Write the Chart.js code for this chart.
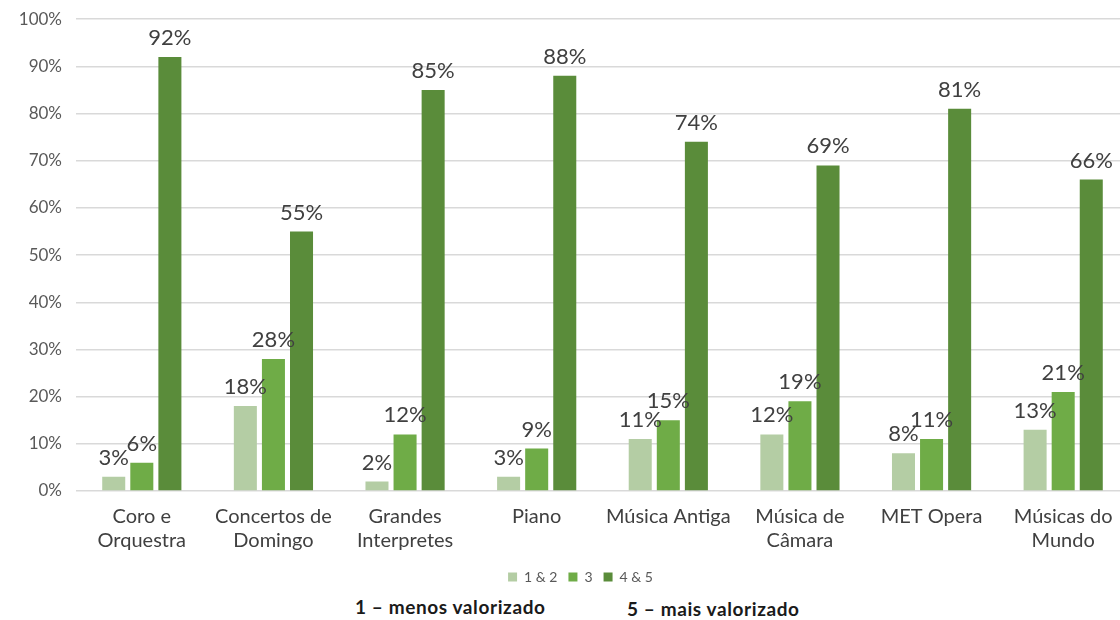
<!DOCTYPE html>
<html lang="pt">
<head>
<meta charset="utf-8">
<title>Valorização dos ciclos</title>
<script src="https://cdn.jsdelivr.net/npm/chart.js@4.4.1/dist/chart.umd.min.js"></script>
<style>
  html, body { margin: 0; padding: 0; background: #fff; overflow: hidden; }
  #wrap { position: relative; width: 1120px; height: 620px; overflow: hidden; }
  #box { position: absolute; left: 0; top: -5px; width: 1129px; height: 599px; }
  .nota { position: absolute; font-family: Lato, sans-serif; font-size: 19px; font-weight: 700; letter-spacing: 0.6px; color: #1a1a1a; white-space: nowrap; }
</style>
</head>
<body>
<div id="wrap">
  <div id="box"><canvas id="grafico"></canvas></div>
  <div class="nota" style="left:355px; top:595px;">1 – menos valorizado</div>
  <div class="nota" style="left:627px; top:597px;">5 – mais valorizado</div>
</div>
<script>
// Ciclos avaliados
const ciclos = [
    ['Coro e', 'Orquestra'],
    ['Concertos de', 'Domingo'],
    ['Grandes', 'Interpretes'],
    'Piano',
    'Música Antiga',
    ['Música de', 'Câmara'],
    'MET Opera',
    ['Músicas do', 'Mundo']
];

// Percentagens por nível de avaliação
const nivel12 = [3, 18, 2, 3, 11, 12, 8, 13];
const nivel3 = [6, 28, 12, 9, 15, 19, 11, 21];
const nivel45 = [92, 55, 85, 88, 74, 69, 81, 66];

const marcasY = [0, 10, 20, 30, 40, 50, 60, 70, 80, 90, 100];

const fonte = 'Lato, sans-serif';

// Rótulos por cima das barras
const rotulos = {
    id: 'rotulos',
    afterDatasetsDraw(chart) {
        const ctx = chart.ctx;
        ctx.save();
        ctx.font = '22px ' + fonte;
        ctx.fillStyle = '#404040';
        ctx.textAlign = 'center';
        ctx.textBaseline = 'alphabetic';
        chart.data.datasets.forEach((ds, i) => {
            chart.getDatasetMeta(i).data.forEach((bar, j) => {
                ctx.fillText(ds.data[j] + '%', bar.x, bar.y - 12);
            });
        });
        ctx.restore();
    }
};

// Legenda um pouco deslocada para a direita
const legendaDireita = {
    id: 'legendaDireita',
    afterLayout(chart) {
        chart.legend.left += 16;
        chart.legend.right += 16;
    }
};

const ctx = document.getElementById('grafico').getContext('2d');
new Chart(ctx, {
    type: 'bar',
    data: {
        labels: ciclos,
        datasets: [
            { label: '1 & 2', data: nivel12, backgroundColor: '#b4cda4' },
            { label: '3', data: nivel3, backgroundColor: '#6fac47' },
            { label: '4 & 5', data: nivel45, backgroundColor: '#5a8c3a' }
        ]
    },
    options: {
        responsive: true,
        maintainAspectRatio: false,
        animation: false,
        datasets: {
            bar: { categoryPercentage: 0.64, barPercentage: 0.82 }
        },
        layout: { padding: 0 },
        plugins: {
            legend: {
                position: 'bottom',
                labels: {
                    boxWidth: 9,
                    boxHeight: 9,
                    padding: 11,
                    color: '#595959',
                    font: { family: fonte, size: 14 }
                }
            },
            tooltip: { enabled: false }
        },
        scales: {
            x: {
                grid: { display: false },
                border: { display: false },
                ticks: {
                    color: '#404040',
                    padding: 6,
                    maxRotation: 0,
                    autoSkip: false,
                    font: { family: fonte, size: 20, lineHeight: 1.2 }
                }
            },
            y: {
                min: 0,
                max: 100,
                afterFit(scale) { scale.width = 76; },
                afterBuildTicks(scale) { scale.ticks = marcasY.map(v => ({ value: v })); },
                grid: { color: '#d9d9d9', lineWidth: 1.5, drawTicks: false },
                border: { display: false },
                ticks: {
                    color: '#595959',
                    padding: 14,
                    font: { family: fonte, size: 17 },
                    callback: v => v + '%'
                }
            }
        }
    },
    plugins: [rotulos, legendaDireita]
});
</script>
</body>
</html>
